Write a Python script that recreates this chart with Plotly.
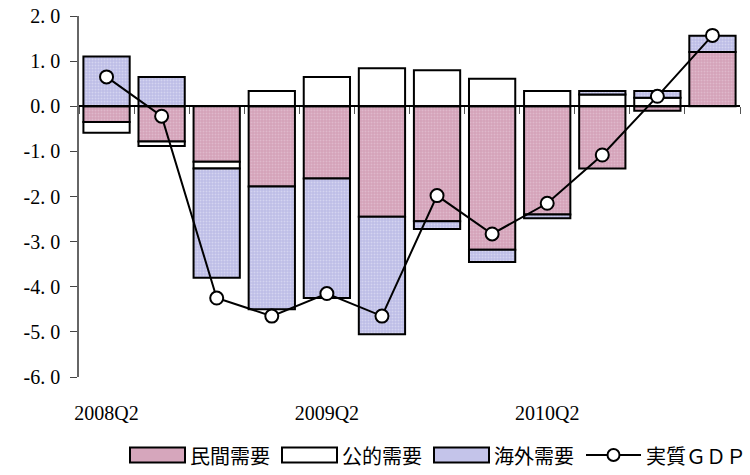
import plotly.graph_objects as go

# Quarterly contributions to real GDP growth (percentage points)
quarters = ["2008Q2", "2008Q3", "2008Q4", "2009Q1", "2009Q2", "2009Q3",
            "2009Q4", "2010Q1", "2010Q2", "2010Q3", "2010Q4", "2011Q1"]
private_demand = [-0.35, -0.78, -1.23, -1.78, -1.60, -2.45, -2.55, -3.18, -2.40, -1.38, -0.10, 1.20]
public_demand = [-0.24, -0.10, -0.15, 0.34, 0.65, 0.84, 0.80, 0.61, 0.34, 0.26, 0.19, 0.00]
external_demand = [1.10, 0.65, -2.42, -2.72, -2.65, -2.60, -0.17, -0.27, -0.08, 0.08, 0.15, 0.36]
real_gdp = [0.65, -0.22, -4.25, -4.65, -4.15, -4.65, -1.98, -2.83, -2.15, -1.08, 0.22, 1.57]

tick_labels = ["2008Q2", "2009Q2", "2010Q2"]
y_ticks = [2, 1, 0, -1, -2, -3, -4, -5, -6]

series_names = ["民間需要", "公的需要", "海外需要", "実質ＧＤＰ"]
pink, white, lavender = "#d6a6bc", "#ffffff", "#c4c4ea"

serif = "Liberation Serif"
cjk = "Noto Sans CJK JP"

fig = go.Figure()

bar_line = dict(color="black", width=2)
fig.add_trace(go.Bar(
    x=quarters, y=private_demand, name=series_names[0],
    marker=dict(color=pink, line=bar_line,
                pattern=dict(shape=".", fgcolor="#ecd0dd", bgcolor="#d3a1b8",
                             size=3, solidity=0.35)),
))
fig.add_trace(go.Bar(
    x=quarters, y=public_demand, name=series_names[1],
    marker=dict(color=white, line=bar_line),
))
fig.add_trace(go.Bar(
    x=quarters, y=external_demand, name=series_names[2],
    marker=dict(color=lavender, line=bar_line,
                pattern=dict(shape=".", fgcolor="#ececf9", bgcolor="#bcbce6",
                             size=3, solidity=0.35)),
))
fig.add_trace(go.Scatter(
    x=quarters, y=real_gdp, name=series_names[3], mode="lines+markers",
    line=dict(color="black", width=2),
    marker=dict(symbol="circle", size=13, color="white",
                line=dict(color="black", width=2)),
))
# empty trace so the zero-line axis gets rendered
fig.add_trace(go.Scatter(x=[], y=[], xaxis="x2", showlegend=False, hoverinfo="skip"))

n = len(quarters)

# Legend row drawn with shapes + text (wide swatches)
plot_l, plot_t, plot_r, plot_b = 79, 16, 740, 377
plot_w, plot_h = plot_r - plot_l, plot_b - plot_t


def px_x(p):
    return (p - plot_l) / plot_w


def px_y(p):
    return (plot_b - p) / plot_h


legend_y = 455
legend_font = 20
sw_w, sw_h, gap = 55, 15, 14
x = 130
shapes, annotations = [], []
for name, fill in zip(series_names[:3], [pink, white, lavender]):
    shapes.append(dict(type="rect", xref="paper", yref="paper",
                       x0=px_x(x), x1=px_x(x + sw_w),
                       y0=px_y(legend_y + sw_h / 2), y1=px_y(legend_y - sw_h / 2),
                       fillcolor=fill, line=dict(color="black", width=2)))
    annotations.append(dict(xref="paper", yref="paper", x=px_x(x + sw_w + 3),
                            y=px_y(legend_y), xanchor="left", yanchor="middle",
                            text=name, showarrow=False,
                            font=dict(family=cjk, size=legend_font, color="black")))
    x += sw_w + 3 + legend_font * len(name) + gap
shapes.append(dict(type="line", xref="paper", yref="paper",
                   x0=px_x(x), x1=px_x(x + sw_w), y0=px_y(legend_y), y1=px_y(legend_y),
                   line=dict(color="black", width=2)))
shapes.append(dict(type="circle", xref="paper", yref="paper",
                   x0=px_x(x + sw_w / 2 - 6), x1=px_x(x + sw_w / 2 + 6),
                   y0=px_y(legend_y + 6), y1=px_y(legend_y - 6),
                   fillcolor="white", line=dict(color="black", width=2)))
annotations.append(dict(xref="paper", yref="paper", x=px_x(x + sw_w + 3),
                        y=px_y(legend_y), xanchor="left", yanchor="middle",
                        text=series_names[3], showarrow=False,
                        font=dict(family=cjk, size=legend_font, color="black")))

fig.update_layout(
    width=750, height=475,
    margin=dict(l=plot_l, r=750 - plot_r, t=plot_t, b=475 - plot_b),
    paper_bgcolor="white", plot_bgcolor="white",
    barmode="relative", bargap=0.16,
    font=dict(family=serif, size=19, color="black"),
    showlegend=False,
    shapes=shapes, annotations=annotations,
    xaxis=dict(type="category", categoryorder="array", categoryarray=quarters,
               range=[-0.5, n - 0.5], showline=False, showgrid=False, zeroline=False,
               automargin=False,
               ticks="", tickmode="array", tickvals=tick_labels, ticktext=tick_labels,
               ticklabelstandoff=22, tickfont=dict(family=serif, size=20)),
    xaxis2=dict(overlaying="x", anchor="free", position=0.75, side="bottom",
                range=[-0.5, n - 0.5], showgrid=False, zeroline=False,
                automargin=False,
                showline=True, linecolor="black", linewidth=1.5,
                ticks="outside", ticklen=7, tickwidth=1, tickcolor="#555",
                tickmode="array", tickvals=[k - 0.5 for k in range(n + 1)],
                showticklabels=False),
    yaxis=dict(range=[-6, 2], showgrid=False, zeroline=False,
               automargin=False, ticklabeloverflow="allow",
               showline=True, linecolor="#666", linewidth=1.5,
               ticks="outside", ticklen=7, tickcolor="#444",
               tickmode="array", tickvals=y_ticks, ticklabelstandoff=6,
               ticktext=[f"{v:.1f}".replace(".", ". ") for v in y_ticks],
               tickfont=dict(family=serif, size=20)),
)

fig.write_html("out.html")
